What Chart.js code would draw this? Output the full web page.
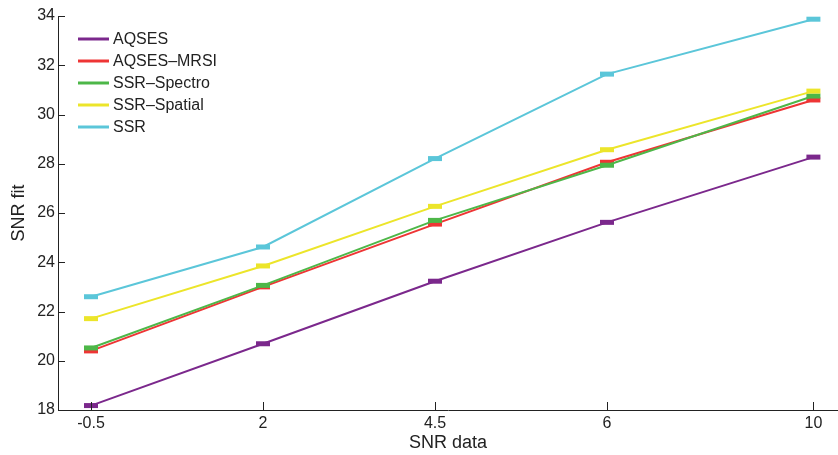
<!DOCTYPE html>
<html>
<head>
<meta charset="utf-8">
<script src="https://cdn.jsdelivr.net/npm/chart.js@4/dist/chart.umd.min.js"></script>
<style>
    html, body { margin: 0; padding: 0; background: #fff; }
    #wrap { width: 838px; height: 455px; }
</style>
</head>
<body>
<div id="wrap"><canvas id="snrChart"></canvas></div>
<script>
// tick labels on the x axis and where they sit on the (uneven) axis
const xLabels = ['-0.5', '2', '4.5', '6', '10'];
const xPos = [1, 2, 3, 4, 5.2];

const seriesNames = ['AQSES', 'AQSES\u2013MRSI', 'SSR\u2013Spectro', 'SSR\u2013Spatial', 'SSR'];
const aqses = [18.18, 20.69, 23.23, 25.62, 28.27];
const aqsesMrsi = [20.40, 23.00, 25.55, 28.06, 30.59];
const ssrSpectro = [20.52, 23.06, 25.70, 27.94, 30.75];
const ssrSpatial = [21.71, 23.85, 26.27, 28.57, 30.95];
const ssr = [22.60, 24.62, 28.21, 31.64, 33.87];

const colors = ['#7b288c', '#ee3535', '#4db748', '#ece52a', '#5bc6d9'];
const allSeries = [aqses, aqsesMrsi, ssrSpectro, ssrSpatial, ssr];

const FONT = '"Liberation Sans", Arial, Helvetica, sans-serif';

const datasets = allSeries.map((vals, i) => ({
    label: seriesNames[i],
    data: vals.map((v, j) => ({ x: xPos[j], y: v })),
    borderColor: colors[i],
    backgroundColor: colors[i],
    borderWidth: 2,
    pointStyle: 'line',
    pointRadius: 7,
    pointBorderWidth: 5,
    pointHoverRadius: 7,
    tension: 0,
    clip: false,
    order: allSeries.length - 1 - i   // later series drawn on top
}));

// inward tick marks, matlab style
const innerTicks = {
    id: 'innerTicks',
    afterDraw(chart) {
        const ctx = chart.ctx;
        const { x, y } = chart.scales;
        const area = chart.chartArea;
        ctx.save();
        ctx.strokeStyle = '#222';
        ctx.lineWidth = 1;
        ctx.beginPath();
        y.ticks.forEach(t => {
            const py = Math.round(y.getPixelForValue(t.value)) + 0.5;
            ctx.moveTo(area.left, py);
            ctx.lineTo(area.left + 7, py);
        });
        x.ticks.forEach(t => {
            const px = Math.round(x.getPixelForValue(t.value)) + 0.5;
            ctx.moveTo(px, area.bottom);
            ctx.lineTo(px, area.bottom - 8);
        });
        ctx.stroke();
        ctx.restore();
    }
};

// legend box in the upper left corner of the plot
const innerLegend = {
    id: 'innerLegend',
    afterDraw(chart) {
        const ctx = chart.ctx;
        ctx.save();
        ctx.font = '16px ' + FONT;
        ctx.textBaseline = 'middle';
        ctx.fillStyle = '#222';
        chart.data.datasets.forEach((ds, i) => {
            const yy = 39 + i * 22;
            ctx.strokeStyle = ds.borderColor;
            ctx.lineWidth = 3;
            ctx.beginPath();
            ctx.moveTo(78, yy);
            ctx.lineTo(109, yy);
            ctx.stroke();
            ctx.fillText(ds.label, 113, yy + 1);
        });
        ctx.restore();
    }
};

new Chart(document.getElementById('snrChart'), {
    type: 'line',
    data: { datasets: datasets },
    options: {
        responsive: true,
        maintainAspectRatio: false,
        animation: false,
        layout: {
            autoPadding: false,
            padding: { top: 16, right: 0, left: 0, bottom: 0 }
        },
        plugins: {
            legend: { display: false },
            tooltip: { enabled: false }
        },
        scales: {
            x: {
                type: 'linear',
                min: 0.808,
                max: 5.343,
                afterFit: s => { s.height = 45; },
                afterBuildTicks: s => { s.ticks = xPos.map(v => ({ value: v })); },
                grid: { drawOnChartArea: false, drawTicks: false },
                border: { color: '#222', width: 1 },
                ticks: {
                    padding: 4,
                    color: '#222',
                    font: { family: FONT, size: 16 },
                    maxRotation: 0,
                    callback: v => xLabels[xPos.indexOf(v)]
                },
                title: {
                    display: true,
                    text: 'SNR data',
                    color: '#222',
                    font: { family: FONT, size: 18 },
                    padding: { top: 0, bottom: 1 }
                }
            },
            y: {
                min: 18,
                max: 34,
                afterFit: s => { s.width = 58; },
                grid: { drawOnChartArea: false, drawTicks: false },
                border: { color: '#222', width: 1 },
                ticks: {
                    stepSize: 2,
                    padding: 3,
                    color: '#222',
                    font: { family: FONT, size: 16 }
                },
                title: {
                    display: true,
                    text: 'SNR fit',
                    color: '#222',
                    font: { family: FONT, size: 18 },
                    padding: { top: 8, bottom: 0 }
                }
            }
        }
    },
    plugins: [innerTicks, innerLegend]
});
</script>
</body>
</html>
